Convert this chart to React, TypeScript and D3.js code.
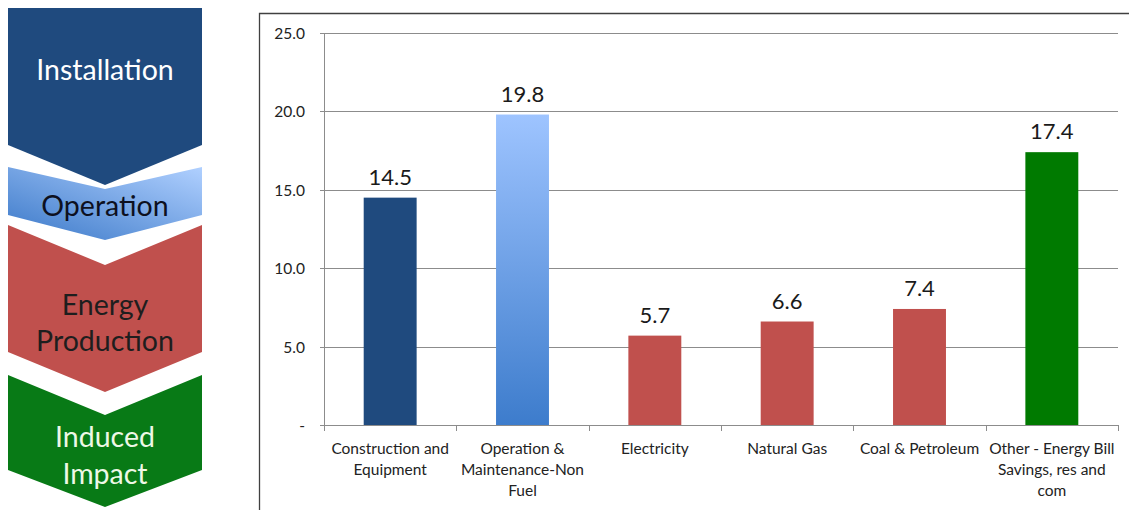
import React from "react"
import * as d3 from "d3"

// bar chart data
const categories = [
	"Construction and|Equipment",
	"Operation &|Maintenance-Non|Fuel",
	"Electricity",
	"Natural Gas",
	"Coal & Petroleum",
	"Other - Energy Bill|Savings, res and|com",
]
const values = [14.5, 19.8, 5.7, 6.6, 7.4, 17.4]
const barFills = ["#1f4a7e", "url(#opGrad)", "#c0504d", "#c0504d", "#c0504d", "#007a00"]
const yTicks = [0, 5, 10, 15, 20, 25]

// process chevrons on the left
const stageLabels = [["Installation"], ["Operation"], ["Energy", "Production"], ["Induced", "Impact"]]
const stageFills = ["#1f4a7e", "url(#opStage)", "#c0504d", "#087a16"]
const stageText = ["#ffffff", "#0d1020", "#1e1e1e", "#eef8e6"]

const FONT = "Lato, 'Open Sans', sans-serif"

const App: React.FC = () => {
	const width = 1129
	const height = 510
	const plot = { left: 324, right: 1118, top: 33, bottom: 425 }

	const x = d3
		.scaleBand()
		.domain(categories)
		.range([plot.left, plot.right])
		.paddingInner(0.6)
		.paddingOuter(0.3)
	const y = d3.scaleLinear().domain([0, 25]).range([plot.bottom, plot.top])
	const step = x.step()
	const bounds = d3.range(categories.length + 1).map((i) => plot.left + i * step)

	// chevron geometry: top, notch depth at top, bottom of sides, point depth
	const stages = [
		{ top: 8, notch: 0, bot: 145, depth: 40, lines: [69] },
		{ top: 167, notch: 22, bot: 215, depth: 25, lines: [205] },
		{ top: 225, notch: 40, bot: 352, depth: 40, lines: [304, 340] },
		{ top: 375, notch: 40, bot: 470, depth: 37, lines: [436, 473] },
	]
	const x0 = 8
	const x1 = 202
	const cx = (x0 + x1) / 2
	const chevron = d3.line()

	return (
		<svg
			width={width}
			height={height}
			style={{ position: "absolute", left: 0, top: 0, background: "#fff" }}>
			<defs>
				<linearGradient id="opGrad" x1="0" y1="0" x2="0" y2="1">
					<stop offset="0%" stopColor="#9ec4ff" />
					<stop offset="100%" stopColor="#3d7ccc" />
				</linearGradient>
				<linearGradient id="opStage" x1="0" y1="1" x2="1" y2="0">
					<stop offset="0%" stopColor="#3a78c8" />
					<stop offset="100%" stopColor="#b0d0ff" />
				</linearGradient>
			</defs>

			{stages.map((s, i) => (
				<g key={i}>
					<path
						d={
							chevron([
								[x0, s.top],
								[cx, s.top + s.notch],
								[x1, s.top],
								[x1, s.bot],
								[cx, s.bot + s.depth],
								[x0, s.bot],
							]) + "Z"
						}
						fill={stageFills[i]}
					/>
					{stageLabels[i].map((t, j) => (
						<text
							key={j}
							x={cx}
							y={s.lines[j]}
							textAnchor="middle"
							dominantBaseline="central"
							fontFamily={FONT}
							fontSize={28.5}
							fill={stageText[i]}>
							{t}
						</text>
					))}
				</g>
			))}

			{/* chart frame */}
			<path d={`M259.5,${height}V13.5H${width}`} fill="none" stroke="#404040" strokeWidth={1.3} />

			{/* gridlines + y ticks */}
			{yTicks.map((t) => (
				<g key={t}>
					<line
						x1={plot.left - 4}
						x2={plot.right}
						y1={Math.round(y(t)) + 0.5}
						y2={Math.round(y(t)) + 0.5}
						stroke="#8c8c8c"
					/>
					<text
						x={305}
						y={y(t)}
						textAnchor="end"
						dominantBaseline="central"
						fontFamily={FONT}
						fontSize={15.5}
						fill="#222">
						{t === 0 ? "-" : d3.format(".1f")(t)}
					</text>
				</g>
			))}
			<line x1={plot.left + 0.5} x2={plot.left + 0.5} y1={plot.top} y2={plot.bottom} stroke="#8c8c8c" />

			{/* bars */}
			{categories.map((c, i) => (
				<g key={c}>
					<rect
						x={x(c)}
						y={y(values[i])}
						width={x.bandwidth()}
						height={y(0) - y(values[i])}
						fill={barFills[i]}
					/>
					<text
						x={(x(c) as number) + x.bandwidth() / 2}
						y={y(values[i]) - 13}
						textAnchor="middle"
						fontFamily={FONT}
						fontSize={22}
						fill="#1a1a1a">
						{d3.format(".1f")(values[i])}
					</text>
					{c.split("|").map((line, j) => (
						<text
							key={j}
							x={(x(c) as number) + x.bandwidth() / 2}
							y={448 + j * 21}
							textAnchor="middle"
							dominantBaseline="central"
							fontFamily={FONT}
							fontSize={15.5}
							fill="#222">
							{line}
						</text>
					))}
				</g>
			))}

			{/* x ticks */}
			{bounds.map((b, i) => (
				<line
					key={i}
					x1={Math.round(b) + 0.5}
					x2={Math.round(b) + 0.5}
					y1={plot.bottom}
					y2={plot.bottom + 6}
					stroke="#8c8c8c"
				/>
			))}
		</svg>
	)
}

export default App
